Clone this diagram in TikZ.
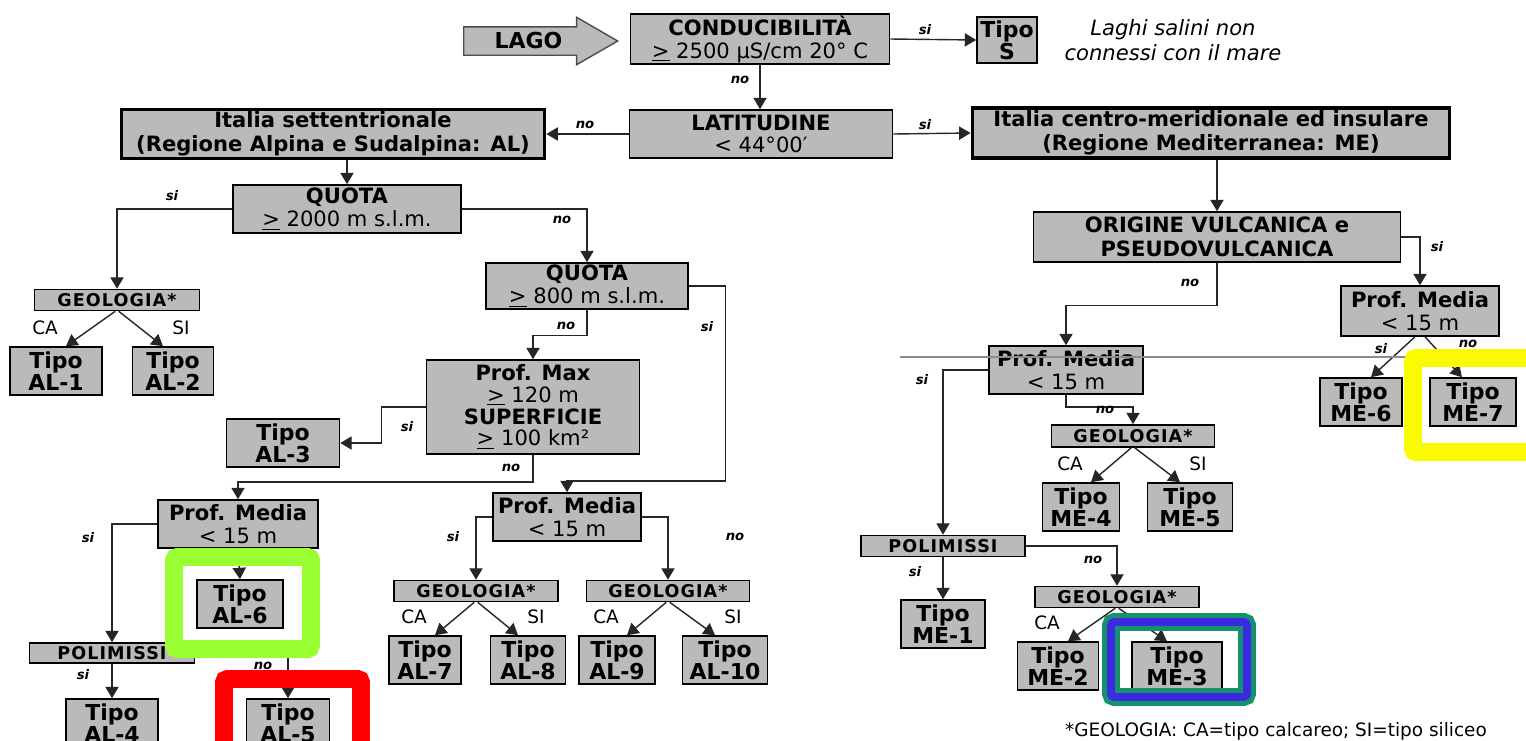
\documentclass[tikz,border=0pt]{standalone}
\usepackage{fontspec}
\setmainfont{DejaVu Sans}
\usetikzlibrary{arrows.meta,shapes.arrows,positioning}

\definecolor{boxgray}{RGB}{186,186,186}
\definecolor{hlyellow}{RGB}{250,250,0}
\definecolor{hlgreen}{RGB}{153,255,51}
\definecolor{hlred}{RGB}{255,0,0}
\definecolor{hlteal}{RGB}{22,145,110}
\definecolor{hlblue}{RGB}{58,43,226}

\begin{document}
\begin{tikzpicture}
   [x=0.02cm, y=-0.02cm,
    box/.style={draw, fill=boxgray, line width=0.9pt, align=center, inner xsep=0pt, inner ysep=1pt,
                font=\fontsize{12}{13}\selectfont},
    areabox/.style={box, line width=2.2pt, font=\fontsize{12}{13.5}\selectfont\bfseries},
    tipo/.style={box, font=\fontsize{12.5}{12.5}\selectfont\bfseries},
    geobox/.style={box, inner ysep=0pt, font=\fontsize{10}{10}\selectfont\bfseries\addfontfeature{LetterSpace=6}},
    boxsize/.style 2 args={minimum width=#1*0.02cm, minimum height=#2*0.02cm},
    link/.style={draw=black!85, line width=0.8pt, -{Triangle[length=6.5pt,width=7.5pt]}},
    ans/.style={font=\fontsize{7.5}{7.5}\selectfont\bfseries\itshape},
    geolbl/.style={font=\fontsize{10.5}{10.5}\selectfont},
    hilite/.style={rounded corners=2pt, line width=10.2pt}]
     \useasboundingbox (0,0) rectangle (1526,741);
     \clip (0,0) rectangle (1526,741);
     % top of the key
     \node[single arrow, draw=black!70, fill=boxgray, line width=0.8pt,
           single arrow head extend=0.19cm, single arrow tip angle=60,
           minimum height=3.08cm, text height=0.28cm, text depth=0cm,
           inner ysep=0.13cm, inner xsep=2pt, anchor=tail,
           font=\fontsize{12.5}{14}\selectfont\bfseries] (lago) at (463,41) {LAGO};
     \node[box, boxsize={259}{48}] (cond) at (760,39)
          {\textbf{CONDUCIBILITÀ}\\\underline{>} 2500 µS/cm 20° C};
     \node[tipo, boxsize={60}{46}] (tipoS) at (1007,40) {Tipo\\S};
     \node[font=\fontsize{12}{14}\selectfont\itshape, align=center] (saline) at (1173,40)
          {Laghi salini non\\connessi con il mare};
     \node[box, boxsize={263}{48}] (lat) at (761,134) {\textbf{LATITUDINE}\\< 44°00′};
     \node[areabox, boxsize={423}{49}] (nord) at (333,134)
          {Italia settentrionale\\(Regione Alpina e Sudalpina: AL)};
     \node[areabox, boxsize={477}{50}] (sud) at (1211,133)
          {Italia centro-meridionale ed insulare\\(Regione Mediterranea: ME)};

     % Alpine branch
     \node[box, boxsize={228}{48}] (quota1) at (347,209) {\textbf{QUOTA}\\\underline{>} 2000 m s.l.m.};
     \node[box, boxsize={202}{46}] (quota2) at (587,286) {\textbf{QUOTA}\\\underline{>} 800 m s.l.m.};
     \node[box, boxsize={213}{94}, font=\fontsize{12}{12.4}\selectfont] (pmax) at (533,407)
          {\textbf{Prof. Max}\\\underline{>} 120 m\\\textbf{SUPERFICIE}\\\underline{>} 100 km²};
     \node[box, boxsize={160}{48}] (pm1) at (238,524) {\textbf{Prof. Media}\\< 15 m};
     \node[box, boxsize={148}{48}] (pm2) at (567,517) {\textbf{Prof. Media}\\< 15 m};
     \node[geobox, boxsize={165}{21}] (geo1) at (117,300) {GEOLOGIA*};
     \node[geobox, boxsize={164}{21}] (geo2) at (476,591) {GEOLOGIA*};
     \node[geobox, boxsize={163}{21}] (geo3) at (668,591) {GEOLOGIA*};
     \node[geobox, boxsize={165}{20}] (pol1) at (112,653) {POLIMISSI};

     % Mediterranean branch
     \node[box, boxsize={367}{50}, font=\fontsize{12}{13.5}\selectfont\bfseries] (orig) at (1217,237)
          {ORIGINE VULCANICA e\\PSEUDOVULCANICA};
     \node[box, boxsize={158}{50}] (pm4) at (1420,311) {\textbf{Prof. Media}\\< 15 m};
     \node[box, boxsize={154}{48}] (pm3) at (1066,370) {\textbf{Prof. Media}\\< 15 m};
     \node[geobox, boxsize={163}{22}] (geo4) at (1133,436) {GEOLOGIA*};
     \node[geobox, boxsize={164}{21}] (pol2) at (943,546) {POLIMISSI};
     \node[geobox, boxsize={164}{21}] (geo5) at (1117,597) {GEOLOGIA*};

     % all the end types
     \foreach \id/\lab/\x/\y/\w in {al1/AL-1/56/371/92, al2/AL-2/173/371/81,
         al3/AL-3/283/443/113, al6/AL-6/240/604/86, al4/AL-4/112/723/92,
         al5/AL-5/288/723/83, al7/AL-7/425/660/72, al8/AL-8/528/660/75,
         al9/AL-9/617/660/76, al10/AL-10/725/660/85,
         me6/ME-6/1361/402/82, me7/ME-7/1473/402/86, me4/ME-4/1081/507/77,
         me5/ME-5/1190/507/85, me1/ME-1/943/624/84, me2/ME-2/1058/666/81,
         me3/ME-3/1177/666/90} {
       \node[tipo, boxsize={\w}{48}] (\id) at (\x,\y) {Tipo\\\lab};
     };

     % edges
     \draw[link] (cond.east) -- (tipoS.west) node[ans] at (925,30) {si};
     \draw[link] (cond.south) -- (cond.south |- lat.north) node[ans] at (740,80) {no};
     \draw[link] (lat.west) -- (nord.east) node[ans] at (585,125) {no};
     \draw[link] (lat.east) -- (sud.west) node[ans] at (925,125) {si};
     \draw[link] (nord.south -| quota1.north) -- (quota1.north);
     \draw[link] (quota1.west) -| (geo1.north) node[ans] at (172,196) {si};
     \draw[link] (quota1.east) -| (quota2.north) node[ans] at (562,220) {no};
     \draw[link] (quota2.south) -- ++(0,26) -| (pmax.north) node[ans] at (566,326) {no};
     \draw[link] (quota2.east) -- ++(37,0) -- ++(0,195) -| (pm2.north) node[ans] at (707,327) {si};
     \draw[link] (pmax.west) -- ++(-44,0) |- (al3.east) node[ans] at (407,427) {si};
     \draw[link] (pmax.south) -- ++(0,27) -| (pm1.north) node[ans] at (511,468) {no};
     \draw[link] (pm1.south) -- (al6.north);
     \draw[link] (pm1.west) -| (pol1.north) node[ans] at (88,538) {si};
     \draw[link] (pol1.south) -- (al4.north) node[ans] at (83,675) {si};
     \draw[link] (pol1.east) -| (al5.north) node[ans] at (263,666) {no};
     \draw[link] (pm2.west) -| (geo2.north) node[ans] at (453,537) {si};
     \draw[link] (pm2.east) -| (geo3.north) node[ans] at (735,537) {no};
     \draw[link] (sud.south -| orig.north) -- (orig.north);
     \draw[link] (orig.east) -| (pm4.north) node[ans] at (1437,247) {si};
     \draw[link] (orig.south) -- ++(0,43) -| (pm3.north) node[ans] at (1190,283) {no};
     \draw[link] ([xshift=-0.1cm]pm4.south) -- ([xshift=0.2cm]me6.north) node[ans] at (1381,349) {si};
     \draw[link] ([xshift=0.1cm]pm4.south) -- ([xshift=-0.22cm]me7.north) node[ans] at (1468,344) {no};
     \draw[link] (pm3.south) -- ++(0,12) -| (geo4.north) node[ans] at (1105,410) {no};
     \draw[link] (pm3.west) -| (pol2.north) node[ans] at (922,380) {si};
     \draw[link] (pol2.south) -- (me1.north) node[ans] at (915,572) {si};
     \draw[link] (pol2.east) -| (geo5.north) node[ans] at (1093,560) {no};
     % geology splits
     \foreach \g/\a/\b in {geo1/al1/al2, geo2/al7/al8, geo3/al9/al10, geo4/me4/me5, geo5/me2/me3} {
       \draw[link] ([xshift=-1pt]\g.south) -- ([xshift=0.2cm]\a.north);
       \draw[link] ([xshift=1pt]\g.south) -- ([xshift=-0.2cm]\b.north);
       \node[geolbl] at ([xshift=-0.22cm, yshift=0.36cm]\a.north) {CA};
       \node[geolbl] at ([xshift=0.16cm, yshift=0.36cm]\b.north) {SI};
     };

     \node[font=\fontsize{10.5}{10.5}\selectfont] (foot) at (1276,731)
          {*GEOLOGIA: CA=tipo calcareo; SI=tipo siliceo};

     % scan line and highlights
     \draw[black!45, line width=0.6pt] (900,357) -- (1415,357);
     \draw[hilite, draw=hlyellow] (1413,358) rectangle (1545,452);
     \draw[hilite, draw=hlgreen] (174,557) rectangle (311,649);
     \draw[hilite, draw=hlred] (224,679) rectangle (361,770);
     \draw[hilite, draw=hlteal] (1111,622) rectangle (1247,697);
     \draw[hilite, draw=hlblue, line width=4.5pt] (1111,622) rectangle (1247,697);
 \end{tikzpicture}
\end{document}
